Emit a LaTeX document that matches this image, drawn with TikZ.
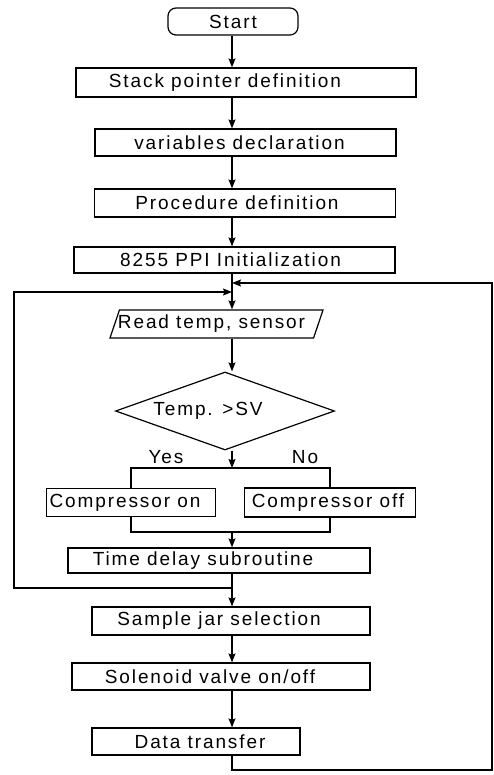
\documentclass[tikz,border=0pt]{standalone}
\usepackage{fontspec}
\setmainfont{Liberation Sans}[LetterSpace=10]
\usetikzlibrary{arrows.meta,shapes.geometric}
% text set off-centre inside its box: #1 is twice the shift
\newcommand\offtxt[2]{\hspace*{#1}#2}
\begin{document}
\begin{tikzpicture}[x=1pt,y=-1pt,
  line width=1.2pt,
  font=\fontsize{19}{21}\selectfont,
  flow/.style={-{Stealth[length=9pt,width=7pt,inset=1.5pt]}},
  proc/.style={draw,rectangle,inner sep=0pt},
  io/.style={draw,trapezium,trapezium left angle=62,trapezium right angle=118,
    trapezium stretches body,inner sep=0pt},
  test/.style={draw,diamond,inner sep=0pt,shape aspect=2.8},
  term/.style={draw,rectangle,rounded corners=8pt,inner sep=0pt}]
\useasboundingbox (0,0) rectangle (494,775);

% main column of the flow
\coordinate (spine) at (232,0);

\node[term,minimum width=130pt,minimum height=27pt] (start) at (233,21.5) {Start};
\node[proc,minimum width=340pt,minimum height=29pt] (stack) at (246,82.5) {\offtxt{-42pt}{Stack pointer definition}};
\node[proc,minimum width=301pt,minimum height=27pt] (vars) at (245.5,142.5) {\offtxt{-12pt}{variables declaration}};
\node[proc,minimum width=301pt,minimum height=28pt] (procdef) at (245,203) {\offtxt{-16pt}{Procedure definition}};
\node[proc,minimum width=321pt,minimum height=26pt] (ppi) at (234.5,260) {\offtxt{-8pt}{8255 PPI Initialization}};
\node[io,minimum width=213pt,minimum height=28pt] (read) at (216.5,324) {\offtxt{-10pt}{Read temp, sensor}};
\node[test,minimum width=219pt,minimum height=78pt] (dec) at (225,411) {\offtxt{-34pt}{Temp. >SV}};
\node[proc,minimum width=169pt,minimum height=28pt] (on) at (131,502.5) {\offtxt{-12pt}{Compressor on}};
\node[proc,minimum width=171pt,minimum height=29pt] (off) at (330,502.5) {\offtxt{-4pt}{Compressor off}};
\node[proc,minimum width=302pt,minimum height=25pt] (delay) at (219,560.5) {\offtxt{-32pt}{Time delay subroutine}};
\node[proc,minimum width=278pt,minimum height=28pt] (jar) at (231,621) {\offtxt{-24pt}{Sample jar selection}};
\node[proc,minimum width=298pt,minimum height=27pt] (valve) at (221,676.5) {\offtxt{-22pt}{Solenoid valve on/off}};
\node[proc,minimum width=208pt,minimum height=27pt] (xfer) at (196,741.5) {\offtxt{8pt}{Data transfer}};

\node (yes) at (166,457) {Yes};
\node (no) at (305,457) {No};

% branch and merge points
\coordinate (split) at (232,468);
\coordinate (merge) at (232,532);
\coordinate (exit) at (232,588);
\coordinate (backL) at (232,292);
\coordinate (backR) at (232,283);
\coordinate (farL) at (14,0);
\coordinate (farR) at (492,0);
\coordinate (bottom) at (0,770);

% straight flow
\draw[flow] (start.south -| spine) -- (stack.north -| spine);
\draw[flow] (stack.south -| spine) -- (vars.north -| spine);
\draw[flow] (vars.south -| spine) -- (procdef.north -| spine);
\draw[flow] (procdef.south -| spine) -- (ppi.north -| spine);
\draw[flow] (ppi.south -| spine) -- (read.north -| spine);
\draw[flow] (read.south -| spine) -- (dec.north -| spine);
\draw[flow] (dec.south -| spine) -- (split);

% yes / no branches
\draw (on.north) |- (split) -| (off.north);
\draw (on.south) |- (merge) -| (off.south);
\draw[flow] (merge) -- (delay.north -| spine);
\draw (delay.south -| spine) -- (exit);
\draw[flow] (exit) -- (jar.north -| spine);
\draw[flow] (jar.south -| spine) -- (valve.north -| spine);
\draw[flow] (valve.south -| spine) -- (xfer.north -| spine);

% inner loop back to the sensor reading
\draw[flow] (exit) -| (farL |- backL) -- (backL);
% outer loop after the data transfer
\draw[flow] (xfer.south -| spine) -- (bottom -| spine) -| (farR |- backR) -- (backR);
\end{tikzpicture}
\end{document}
